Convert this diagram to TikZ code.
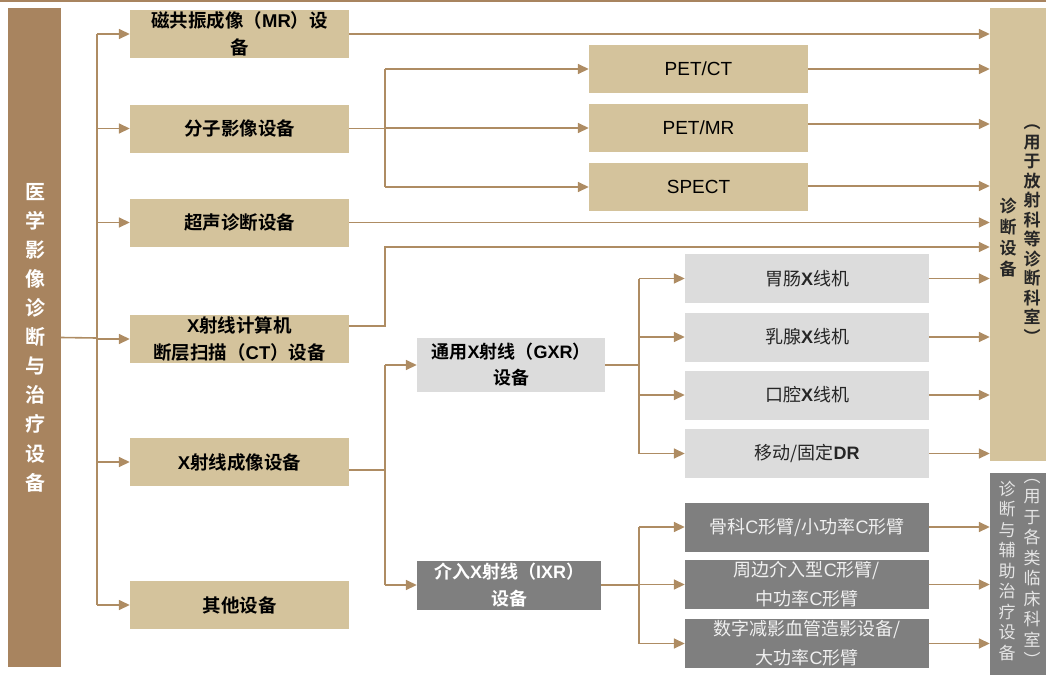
\documentclass[tikz,border=0pt]{standalone}
\usepackage{fontspec}
\setmainfont{Noto Sans CJK SC}[BoldFont={Noto Sans CJK SC Bold}]
\newfontfamily\ar{Liberation Sans}
\newcommand{\lt}[1]{{\ar #1}}
\usetikzlibrary{arrows.meta}
\definecolor{brn}{HTML}{A8845F}
\definecolor{arrc}{HTML}{AE8C63}
\definecolor{tan}{HTML}{D4C39C}
\definecolor{lgray}{HTML}{DCDCDC}
\definecolor{dgray}{HTML}{7F7F7F}
\tikzset{
  box/.style={draw=none, inner sep=0pt, align=center, font=\fontsize{18}{27}\selectfont},
  tanbox/.style={box, fill=tan, minimum width=219pt, minimum height=48pt, font=\fontsize{18.5}{27}\selectfont\bfseries},
  petbox/.style={box, fill=tan, minimum width=219pt, minimum height=48pt, font=\fontsize{19}{27}\selectfont\ar},
  lbox/.style={box, fill=lgray, minimum width=244pt, minimum height=49pt, text=black!85},
  dbox/.style={box, fill=dgray, minimum width=244pt, minimum height=49pt, text=white!94!black, font=\fontsize{18}{29}\selectfont},
  ln/.style={draw=arrc, line width=1.6pt},
  arr/.style={ln, -{Triangle[length=11pt,width=10pt]}},
  vtxt/.style={inner sep=0pt, align=center}
}
\begin{document}
\begin{tikzpicture}[x=1pt,y=-1pt]
\useasboundingbox (0,0) rectangle (1046,675);
\fill[brn] (0,0) rectangle (1046,2);
% left column
\node[box, fill=brn, minimum width=53pt, minimum height=659pt] (L) at (34.5,337.5) {};
\node[vtxt, text=white, font=\fontsize{20}{29.1}\selectfont\bfseries] (Lt) at (35,337.5) {医\\学\\影\\像\\诊\\断\\与\\治\\疗\\设\\备};
% second level
\node[tanbox] (MR) at (239.5,34) {磁共振成像（\lt{MR}）设\\备};
\node[tanbox] (Mol) at (239.5,128.5) {分子影像设备};
\node[tanbox] (US) at (239.5,222.5) {超声诊断设备};
\node[tanbox] (CT) at (239.5,339) {\lt{X}射线计算机\\断层扫描（\lt{CT}）设备};
\node[tanbox] (XR) at (239.5,462) {\lt{X}射线成像设备};
\node[tanbox] (Other) at (239.5,605) {其他设备};
% PET
\node[petbox] (PETCT) at (698.5,69) {PET/CT};
\node[petbox] (PETMR) at (698.5,128) {PET/MR};
\node[petbox] (SPECT) at (698.5,187) {SPECT};
% GXR / IXR
\node[box, fill=lgray, minimum width=188pt, minimum height=54pt, font=\fontsize{18}{26}\selectfont\bfseries] (GXR) at (511,365) {通用\lt{X}射线（\lt{GXR}）\\设备};
\node[box, fill=dgray, text=white, minimum width=184pt, minimum height=49pt, font=\fontsize{18}{27}\selectfont\bfseries] (IXR) at (509,585) {介入\lt{X}射线（\lt{IXR}）\\设备};
% sub boxes
\node[lbox] (S1) at (807,278.5) {胃肠\lt{\bfseries X}线机};
\node[lbox] (S2) at (807,337) {乳腺\lt{\bfseries X}线机};
\node[lbox] (S3) at (807,395) {口腔\lt{\bfseries X}线机};
\node[lbox] (S4) at (807,453.5) {移动/固定\lt{\bfseries DR}};
\node[dbox] (D1) at (807,527) {骨科\lt{C}形臂/小功率\lt{C}形臂};
\node[dbox] (D2) at (807,584.5) {周边介入型\lt{C}形臂/\\中功率\lt{C}形臂};
\node[dbox] (D3) at (807,643.5) {数字减影血管造影设备/\\大功率\lt{C}形臂};
% right boxes
\node[box, fill=tan, minimum width=56pt, minimum height=453pt] (R1) at (1018,234.5) {};
\node[box, fill=dgray, minimum width=56pt, minimum height=202pt] (R2) at (1018,574) {};
\node[vtxt, text=black!85, font=\fontsize{17}{19.5}\selectfont\bfseries] (R1a) at (1032,234) {︵\\用\\于\\放\\射\\科\\等\\诊\\断\\科\\室\\︶};
\node[vtxt, text=black!85, font=\fontsize{17}{21}\selectfont\bfseries] (R1b) at (1008,237) {诊\\断\\设\\备};
\node[vtxt, text=white!90!black, font=\fontsize{17}{20.5}\selectfont] (R2a) at (1032,573) {︵\\用\\于\\各\\类\\临\\床\\科\\室\\︶};
\node[vtxt, text=white!90!black, font=\fontsize{17}{20.5}\selectfont] (R2b) at (1007,571) {诊\\断\\与\\辅\\助\\治\\疗\\设\\备};
% trunk
\coordinate (t) at (97,338);
\draw[ln] (L.east) -- (t);
\draw[ln] (MR.west -| t) -- (Other.west -| t);
\foreach \n in {MR,Mol,US,CT,XR,Other} \draw[arr] (\n.west -| t) -- (\n.west);
% right of second level
\draw[arr] (MR.east) -- (MR.east -| R1.west);
\draw[arr] (US.east) -- (US.east -| R1.west);
\coordinate (jA) at (385,128);
\draw[ln] (Mol.east) -- (Mol.east -| jA);
\draw[ln] (PETCT.west -| jA) -- (SPECT.west -| jA);
\foreach \n in {PETCT,PETMR,SPECT} \draw[arr] (\n.west -| jA) -- (\n.west);
\draw[arr] (PETCT.east) -- (PETCT.east -| R1.west);
\draw[arr] ([yshift=4pt]PETMR.east) -- ([yshift=4pt]PETMR.east -| R1.west);
\draw[arr] ([yshift=1pt]SPECT.east) -- ([yshift=1pt]SPECT.east -| R1.west);
\coordinate (jB) at (385,247);
\draw[arr] ([yshift=13pt]CT.east) -| (jB) -- (jB -| R1.west);
\coordinate (jC) at (385,470);
\draw[ln] ([yshift=-8pt]XR.east) -- (jC);
\draw[ln] (GXR.west -| jC) -- (IXR.west -| jC);
\draw[arr] (GXR.west -| jC) -- (GXR.west);
\draw[arr] (IXR.west -| jC) -- (IXR.west);
% GXR
\coordinate (jD) at (639,365);
\draw[ln] (GXR.east) -- (jD);
\draw[ln] (S1.west -| jD) -- (S4.west -| jD);
\foreach \n in {S1,S2,S3,S4} {\draw[arr] (\n.west -| jD) -- (\n.west); \draw[arr] (\n.east) -- (\n.east -| R1.west);}
% IXR
\coordinate (jE) at (639,585);
\draw[ln] (IXR.east) -- (jE);
\draw[ln] (D1.west -| jE) -- (D3.west -| jE);
\foreach \n in {D1,D2,D3} {\draw[arr] (\n.west -| jE) -- (\n.west); \draw[arr] (\n.east) -- (\n.east -| R2.west);}
\end{tikzpicture}
\end{document}
